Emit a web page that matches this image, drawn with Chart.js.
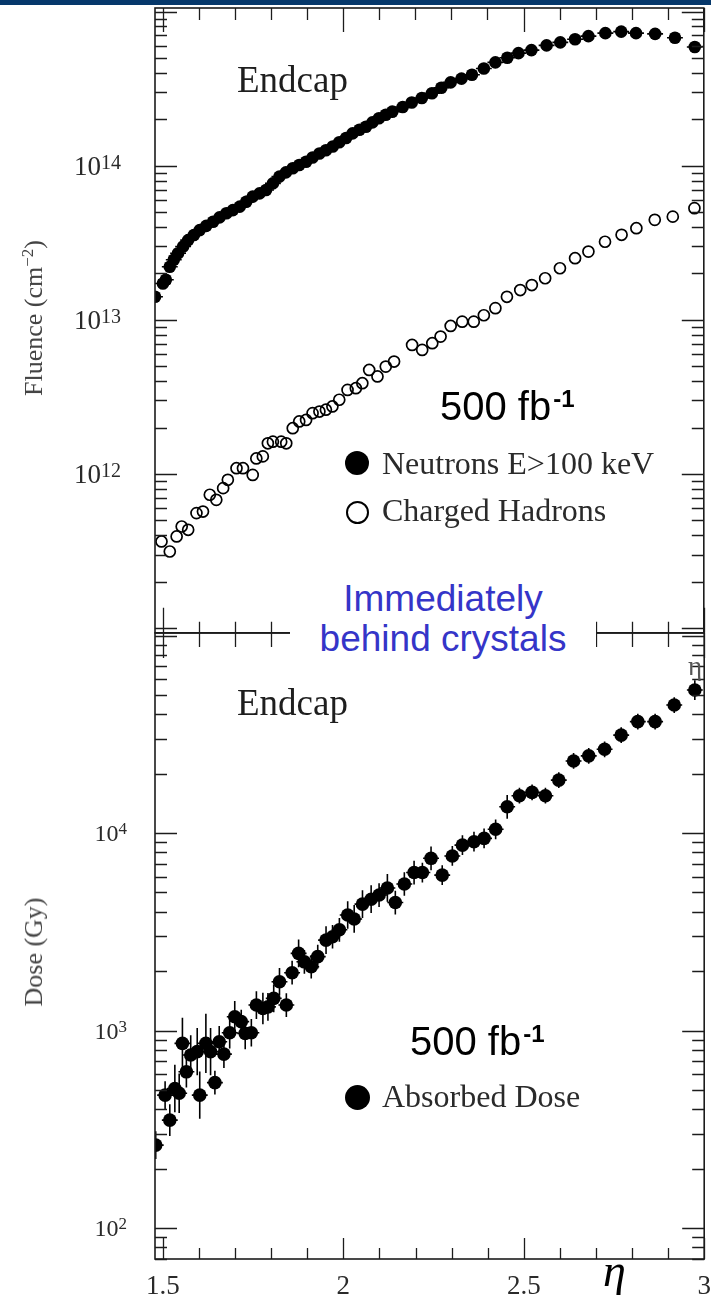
<!DOCTYPE html>
<html>
<head>
<meta charset="utf-8">
<script src="https://cdn.jsdelivr.net/npm/chart.js@4/dist/chart.umd.min.js"></script>
<style>
html,body{margin:0;padding:0;background:#fff;}
body{width:711px;height:1295px;position:relative;overflow:hidden;}
canvas{position:absolute;left:0;}
.t{position:absolute;white-space:nowrap;}
</style>
</head>
<body>
<div style="position:absolute;left:0;top:0;width:711px;height:5px;background:#06386b"></div>
<canvas id="topChart" width="711" height="640" style="top:0;width:711px;height:640px"></canvas>
<canvas id="botChart" width="711" height="675" style="top:620px;width:711px;height:675px"></canvas>
<script>
// ---------------- DATA ----------------
const etaNeutron = [1.478,1.500,1.508,1.519,1.530,1.542,1.556,1.570,1.586,1.602,1.620,1.639,1.657,1.676,1.694,1.713,1.731,1.749,1.768,1.786,1.805,1.823,1.841,1.860,1.878,1.897,1.915,1.934,1.952,1.971,1.989,2.008,2.026,2.045,2.063,2.081,2.099,2.118,2.136,2.165,2.190,2.218,2.246,2.272,2.298,2.328,2.357,2.390,2.422,2.455,2.486,2.522,2.564,2.602,2.643,2.680,2.727,2.771,2.812,2.865,2.920,2.975];
const fluenceNeutron = [1.41e13,1.72e13,1.82e13,2.21e13,2.45e13,2.70e13,2.99e13,3.29e13,3.55e13,3.82e13,4.07e13,4.33e13,4.62e13,4.91e13,5.15e13,5.42e13,5.83e13,6.30e13,6.61e13,6.95e13,7.67e13,8.49e13,9.04e13,9.62e13,1.01e14,1.06e14,1.13e14,1.20e14,1.26e14,1.33e14,1.42e14,1.51e14,1.62e14,1.71e14,1.79e14,1.91e14,2.03e14,2.14e14,2.24e14,2.40e14,2.57e14,2.75e14,2.95e14,3.20e14,3.47e14,3.67e14,3.89e14,4.27e14,4.68e14,5.01e14,5.37e14,5.62e14,6.03e14,6.31e14,6.61e14,6.92e14,7.24e14,7.41e14,7.24e14,7.16e14,6.76e14,5.89e14];

const etaHadron = [1.496,1.519,1.538,1.552,1.570,1.593,1.611,1.630,1.648,1.667,1.680,1.704,1.722,1.749,1.759,1.777,1.791,1.805,1.828,1.842,1.860,1.878,1.897,1.915,1.934,1.952,1.970,1.989,2.012,2.035,2.053,2.072,2.095,2.118,2.141,2.191,2.219,2.247,2.270,2.298,2.330,2.362,2.390,2.422,2.454,2.491,2.523,2.560,2.601,2.643,2.680,2.726,2.772,2.813,2.864,2.914,2.974];
const fluenceHadron = [3.65e11,3.14e11,3.93e11,4.56e11,4.34e11,5.57e11,5.70e11,7.33e11,6.79e11,8.09e11,9.16e11,1.09e12,1.09e12,9.86e11,1.26e12,1.30e12,1.58e12,1.62e12,1.62e12,1.58e12,1.98e12,2.19e12,2.24e12,2.48e12,2.54e12,2.61e12,2.74e12,3.03e12,3.51e12,3.60e12,3.88e12,4.73e12,4.29e12,4.97e12,5.36e12,6.87e12,6.38e12,7.05e12,7.78e12,9.12e12,9.73e12,9.73e12,1.07e13,1.19e13,1.41e13,1.56e13,1.68e13,1.86e13,2.16e13,2.51e13,2.77e13,3.21e13,3.56e13,3.93e13,4.45e13,4.67e13,5.30e13];

const etaDose = [1.480,1.506,1.519,1.533,1.545,1.554,1.565,1.577,1.595,1.602,1.619,1.632,1.644,1.656,1.669,1.685,1.699,1.717,1.728,1.745,1.759,1.777,1.791,1.807,1.823,1.842,1.858,1.876,1.892,1.911,1.929,1.952,1.970,1.989,2.012,2.030,2.053,2.077,2.099,2.122,2.144,2.169,2.196,2.219,2.243,2.274,2.302,2.330,2.362,2.390,2.422,2.454,2.488,2.523,2.560,2.597,2.638,2.680,2.724,2.770,2.816,2.864,2.917,2.974];
const doseGy = [263,471,352,509,481,861,618,752,782,471,861,782,545,877,760,975,1175,1109,968,975,1346,1294,1318,1455,1766,1346,1963,2460,2228,2104,2366,2871,2985,3236,3846,3673,4365,4624,4853,5272,4446,5521,6310,6310,7447,6124,7656,8690,9036,9397,10450,13580,15450,16070,15450,18540,23170,24600,26550,31330,36640,36640,44460,52970];
// symmetric error in decades (log10 units)
const doseErrDex = [0.07,0.07,0.08,0.12,0.10,0.13,0.08,0.10,0.12,0.12,0.15,0.12,0.06,0.08,0.07,0.08,0.08,0.06,0.08,0.07,0.07,0.08,0.07,0.07,0.07,0.06,0.06,0.07,0.06,0.06,0.06,0.07,0.06,0.06,0.07,0.07,0.07,0.07,0.06,0.07,0.06,0.06,0.06,0.05,0.06,0.05,0.05,0.05,0.05,0.05,0.05,0.06,0.04,0.04,0.04,0.04,0.04,0.04,0.04,0.04,0.04,0.04,0.04,0.05];
const binHalfWidth = 0.022;

const xTickLabels = ['1.5', '2', '2.5', '3'];
const xTickValues = [1.5, 2, 2.5, 3];
const topDecadeLabels = [12, 13, 14];
const bottomDecadeLabels = [2, 3, 4];

// ---------------- helpers ----------------
const SERIF = "'Liberation Serif','Times New Roman',serif";
const SANS = "'Liberation Sans',Arial,sans-serif";

function makeAxisPlugin(o) {
  return {
    id: 'axisFrame',
    beforeDatasetsDraw(chart) {
      const {ctx, chartArea: a, scales: {x, y}} = chart;
      ctx.save();
      ctx.beginPath(); ctx.rect(a.left, a.top, a.right - a.left, a.bottom - a.top); ctx.clip();
      ctx.strokeStyle = '#000'; ctx.lineWidth = 1.6;
      ctx.beginPath();
      chart.data.datasets.forEach(ds => {
        ds.data.forEach((p, i) => {
          const px = x.getPixelForValue(p.x), py = y.getPixelForValue(p.y);
          if (ds.errX) {
            ctx.moveTo(x.getPixelForValue(p.x - ds.errX), py);
            ctx.lineTo(x.getPixelForValue(p.x + ds.errX), py);
          }
          if (ds.errYDex) {
            const f = Math.pow(10, ds.errYDex[i]);
            ctx.moveTo(px, y.getPixelForValue(p.y * f));
            ctx.lineTo(px, y.getPixelForValue(p.y / f));
          }
        });
      });
      ctx.stroke();
      ctx.restore();
    },
    afterDatasetsDraw(chart) {
      const {ctx, chartArea: a, scales: {x, y}} = chart;
      ctx.save();
      ctx.strokeStyle = '#1c1c1c'; ctx.lineWidth = 1.6;
      ctx.strokeRect(a.left, a.top, a.right - a.left, a.bottom - a.top);
      ctx.lineWidth = 1.3;
      ctx.beginPath();
      for (let k = 15; k <= 30; k++) {
        const px = Math.round(x.getPixelForValue(k / 10)) + 0.5;
        const major = k % 5 === 0;
        const lt = major ? o.xTop[0] : o.xTop[1];
        const lb = major ? o.xBottom[0] : o.xBottom[1];
        ctx.moveTo(px, a.top); ctx.lineTo(px, a.top + lt);
        ctx.moveTo(px, a.bottom); ctx.lineTo(px, a.bottom - lb);
      }
      const e0 = Math.floor(Math.log10(y.min)), e1 = Math.ceil(Math.log10(y.max));
      for (let e = e0; e <= e1; e++) {
        for (let m = 1; m <= 9; m++) {
          const v = m * Math.pow(10, e);
          if (v < y.min || v > y.max) continue;
          const py = Math.round(y.getPixelForValue(v)) + 0.5;
          const len = m === 1 ? o.yMajor : o.yMinor;
          ctx.moveTo(a.left, py); ctx.lineTo(a.left + len, py);
          ctx.moveTo(a.right, py); ctx.lineTo(a.right - len, py);
        }
      }
      ctx.stroke();
      // decade labels
      ctx.fillStyle = '#2a2a2a'; ctx.textBaseline = 'alphabetic'; ctx.textAlign = 'left';
      o.decades.forEach(e => {
        const py = y.getPixelForValue(Math.pow(10, e));
        ctx.font = o.supSize + 'px ' + SERIF;
        const sw = ctx.measureText(String(e)).width;
        ctx.font = o.mainSize + 'px ' + SERIF;
        const mw = ctx.measureText('10').width;
        ctx.fillText('10', o.labelRight - sw - mw, py + o.mainDrop);
        ctx.font = o.supSize + 'px ' + SERIF;
        ctx.fillText(String(e), o.labelRight - sw, py + o.mainDrop - o.supRaise);
      });
      if (o.xLabels) {
        ctx.font = o.xSize + 'px ' + SERIF; ctx.textAlign = 'center';
        o.xLabels.forEach((t, i) => ctx.fillText(t, x.getPixelForValue(o.xValues[i]), a.bottom + o.xDrop));
      }
      ctx.restore();
    }
  };
}

function txt(html, x, base, size, fam, color, extra) {
  extra = extra || {};
  const d = document.createElement('div');
  d.className = 't';
  d.innerHTML = html;
  const serif = fam === 'serif';
  const asc = serif ? 0.891 : 0.905, desc = serif ? 0.216 : 0.212;
  const lh = extra.lh || Math.round(size * 1.2);
  const top = base - ((lh - (asc + desc) * size) / 2 + asc * size);
  d.style.left = x + 'px';
  d.style.top = top + 'px';
  d.style.font = (extra.style || 'normal') + ' ' + (extra.weight || 'normal') + ' ' + size + 'px/' + lh + 'px ' + (serif ? SERIF : SANS);
  d.style.color = color;
  if (extra.center) { d.style.transform = 'translateX(-50%)'; d.style.textAlign = 'center'; }
  document.body.appendChild(d);
  return d;
}
function vtitle(html, cx, cy, size, color) {
  const d = document.createElement('div');
  d.className = 't';
  d.innerHTML = html;
  d.style.left = cx + 'px'; d.style.top = cy + 'px';
  d.style.font = size + 'px/' + size + 'px ' + SERIF;
  d.style.color = color;
  d.style.transform = 'translate(-50%,-50%) rotate(-90deg)';
  document.body.appendChild(d);
}
function dot(cx, cy, r, filled, bw) {
  const d = document.createElement('div');
  d.style.position = 'absolute';
  d.style.left = (cx - r) + 'px'; d.style.top = (cy - r) + 'px';
  d.style.width = (2 * r) + 'px'; d.style.height = (2 * r) + 'px';
  d.style.borderRadius = '50%';
  d.style.boxSizing = 'border-box';
  if (filled) d.style.background = '#000';
  else d.style.border = bw + 'px solid #000';
  document.body.appendChild(d);
}

// ---------------- charts ----------------
const common = {
  responsive: false, animation: false, devicePixelRatio: 1, events: [],
  plugins: { legend: { display: false }, tooltip: { enabled: false }, title: { display: false } }
};

new Chart(document.getElementById('topChart'), {
  type: 'scatter',
  data: {
    datasets: [
      { label: 'Neutrons E>100 keV', data: etaNeutron.map((v, i) => ({ x: v, y: fluenceNeutron[i] })),
        pointStyle: 'circle', pointRadius: 6.3, pointBackgroundColor: '#000', pointBorderWidth: 0,
        errX: binHalfWidth, clip: 0 },
      { label: 'Charged Hadrons', data: etaHadron.map((v, i) => ({ x: v, y: fluenceHadron[i] })),
        pointStyle: 'circle', pointRadius: 5.5, pointBackgroundColor: 'rgba(0,0,0,0)',
        pointBorderColor: '#000', pointBorderWidth: 1.7, clip: 0 }
    ]
  },
  options: Object.assign({}, common, {
    layout: { padding: { left: 155, right: 6, top: 8, bottom: 7 } },
    scales: {
      x: { type: 'linear', min: 1.478, max: 3.0, display: false },
      y: { type: 'logarithmic', min: 9.32e10, max: 1.054e15, display: false }
    }
  }),
  plugins: [makeAxisPlugin({
    xTop: [24, 12], xBottom: [25, 11], yMajor: 22, yMinor: 12,
    decades: topDecadeLabels, labelRight: 121, mainSize: 27, supSize: 20, supRaise: 6, mainDrop: 9.5
  })]
});

new Chart(document.getElementById('botChart'), {
  type: 'scatter',
  data: {
    datasets: [
      { label: 'Absorbed Dose', data: etaDose.map((v, i) => ({ x: v, y: doseGy[i] })),
        pointStyle: 'circle', pointRadius: 6.8, pointBackgroundColor: '#000', pointBorderWidth: 0,
        errX: binHalfWidth, errYDex: doseErrDex, clip: 0 }
    ]
  },
  options: Object.assign({}, common, {
    layout: { padding: { left: 155, right: 6, top: 13, bottom: 36 } },
    scales: {
      x: { type: 'linear', min: 1.478, max: 3.0, display: false },
      y: { type: 'logarithmic', min: 69.7, max: 1.03e5, display: false }
    }
  }),
  plugins: [makeAxisPlugin({
    xTop: [25, 14], xBottom: [21, 11], yMajor: 22, yMinor: 12,
    decades: bottomDecadeLabels, labelRight: 127, mainSize: 24, supSize: 17, supRaise: 7, mainDrop: 8,
    xLabels: xTickLabels, xValues: xTickValues, xSize: 27, xDrop: 35
  })]
});

// ---------------- annotations ----------------
const SUP = (s, size, raise, weight) =>
  '<span style="position:relative;top:-' + raise + 'px;font-size:' + size + 'px;line-height:0;font-weight:' + (weight || 'normal') + '">' + s + '</span>';

vtitle('Fluence (cm' + SUP('&minus;2', 17, 9) + ')', 34, 318, 26, '#444');
vtitle('Dose (Gy)', 34, 952, 26, '#444');

txt('Endcap', 237, 92, 37, 'serif', '#1e1e1e');
txt('Endcap', 237, 715, 37, 'serif', '#1e1e1e');

txt('500 fb' + '<span style="position:relative;top:-13px;font-size:24px;line-height:0;font-weight:bold;margin-left:2px">-1</span>', 440, 420, 40, 'sans', '#000');
txt('500 fb' + '<span style="position:relative;top:-13px;font-size:24px;line-height:0;font-weight:bold;margin-left:2px">-1</span>', 410, 1055, 40, 'sans', '#000');

dot(357, 463, 12, true);
txt('Neutrons E&gt;100 keV', 382, 474, 32, 'serif', '#2a2a2a');
dot(357, 512, 11.5, false, 2);
txt('Charged Hadrons', 382, 521, 32, 'serif', '#2a2a2a');
dot(357, 1097, 12.5, true);
txt('Absorbed Dose', 382, 1107, 32, 'serif', '#2a2a2a');

// white box with blue label between panels
const box = document.createElement('div');
box.style.cssText = 'position:absolute;left:290px;top:574px;width:306px;height:90px;background:#fff;';
document.body.appendChild(box);
txt('Immediately<br>behind crystals', 443, 612, 37, 'sans', '#3535c8', { lh: 40, center: true });

txt('&eta;', 688, 675, 27, 'serif', '#555');
txt('&eta;', 603, 1286, 46, 'serif', '#000', { style: 'italic' });
</script>
</body>
</html>
